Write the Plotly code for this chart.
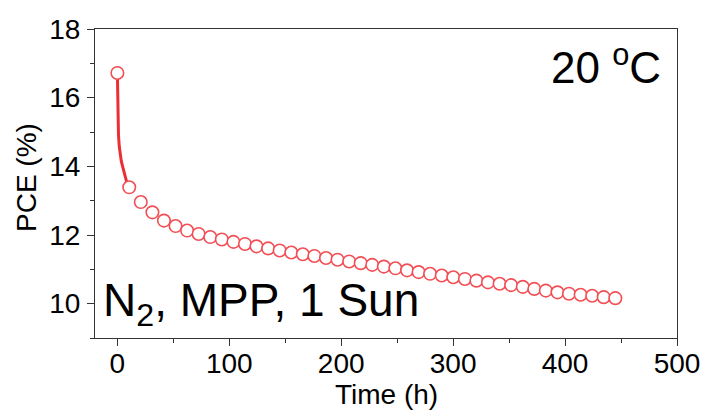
import plotly.graph_objects as go

# Early dense segment (steep initial drop)
line_time = [0, 0.1, 0.3, 0.6, 1.0, 1.7, 2.5, 3.5, 4.7, 6.0, 7.1, 8.5, 10.6]
line_pce = [16.72, 16.2, 15.6, 15.2, 14.9, 14.57, 14.35, 14.15, 13.99, 13.8, 13.65, 13.52, 13.39]

# Marker points
marker_time = [0, 10.6, 20.9, 31.3, 41.6, 52.0, 62.3, 72.6, 83.0, 93.3, 103.7, 114.0, 124.3,
               134.7, 145.0, 155.4, 165.7, 176.0, 186.4, 196.7, 207.1, 217.4, 227.7, 238.1,
               248.4, 258.8, 269.1, 279.4, 289.8, 300.1, 310.5, 320.8, 331.1, 341.5, 351.8,
               362.2, 372.5, 382.8, 393.2, 403.5, 413.9, 424.2, 434.5, 444.9]
marker_pce = [16.72, 13.39, 12.96, 12.66, 12.42, 12.26, 12.13, 12.03, 11.94, 11.87, 11.80, 11.74, 11.67,
              11.61, 11.55, 11.49, 11.44, 11.39, 11.33, 11.28, 11.23, 11.18, 11.13, 11.08,
              11.03, 10.97, 10.92, 10.87, 10.82, 10.77, 10.72, 10.67, 10.62, 10.58, 10.54,
              10.49, 10.43, 10.38, 10.33, 10.29, 10.26, 10.23, 10.19, 10.16]

x_ticks = [0, 100, 200, 300, 400, 500]
y_ticks = [10, 12, 14, 16, 18]

font_family = "Liberation Sans, Arial, sans-serif"

fig = go.Figure()
fig.add_trace(go.Scatter(x=line_time, y=line_pce, mode="lines",
                         line=dict(color="#EC2F34", width=3), hoverinfo="skip"))
fig.add_trace(go.Scatter(x=marker_time, y=marker_pce, mode="markers",
                         marker=dict(symbol="circle", size=12.5, color="white",
                                     line=dict(color="#F24E55", width=1.6))))

axis_common = dict(
    showline=True, linecolor="#333333", linewidth=1, mirror=True,
    ticks="outside", ticklen=7, tickwidth=1, tickcolor="#333333",
    showgrid=False, zeroline=False, automargin=False,
    tickfont=dict(family=font_family, size=28, color="black"),
)

fig.update_layout(
    width=702, height=410,
    margin=dict(l=95, r=25, t=29, b=72),
    paper_bgcolor="white", plot_bgcolor="white",
    showlegend=False,
    font=dict(family=font_family, color="black"),
    xaxis=dict(range=[-20, 500], tickvals=x_ticks, ticklabelstandoff=-7,
               minor=dict(dtick=50, tick0=0, ticks="outside", ticklen=4, tickcolor="#333333"),
               **axis_common),
    yaxis=dict(range=[9, 18], tickvals=y_ticks, ticklabelstandoff=1,
               minor=dict(dtick=1, tick0=0, ticks="outside", ticklen=4, tickcolor="#333333"),
               **axis_common),
    annotations=[
        dict(text="Time (h)", xref="paper", yref="paper", x=(386 - 95) / 582, y=-(394 - 338) / 309,
             xanchor="center", yanchor="middle", showarrow=False,
             font=dict(family=font_family, size=28, color="black")),
        dict(text="PCE (%)", xref="paper", yref="paper", x=-(95 - 27) / 582, y=1 - (178 - 29) / 309,
             xanchor="center", yanchor="middle", showarrow=False, textangle=-90,
             font=dict(family=font_family, size=28, color="black")),
        dict(text="20 <sup>o</sup>C", xref="paper", yref="paper", x=0.976, y=0.886,
             xanchor="right", yanchor="middle", showarrow=False,
             font=dict(family=font_family, size=44, color="black")),
        dict(text="N<sub>2</sub>, MPP, 1 Sun", xref="paper", yref="paper", x=0.011, y=0.112,
             xanchor="left", yanchor="middle", showarrow=False,
             font=dict(family=font_family, size=46, color="black")),
    ],
)

fig.write_html(
    "out.html",
    config={"displayModeBar": False},
    post_script="document.body.style.margin='0';document.body.style.overflow='hidden';",
)
